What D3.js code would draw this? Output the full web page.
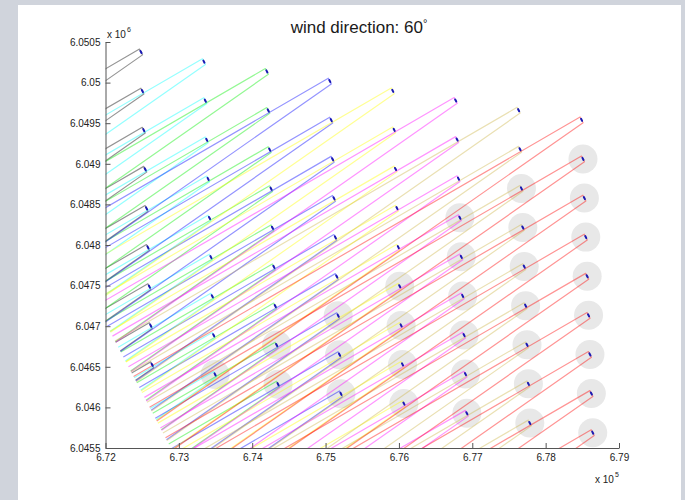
<!DOCTYPE html>
<html><head><meta charset="utf-8">
<script src="https://cdn.jsdelivr.net/npm/d3@7"></script>
<style>
html,body{margin:0;padding:0;background:#d0d4dc;}
svg{display:block;}
</style></head><body>
<svg id="chart" width="685" height="500"></svg>
<script>
// ---------- data ----------
const titleText = "wind direction: 60";
const windDirection = 60;          // degrees (wind comes from)
const rotorDiameter = 82;          // m
const wakeDecay = 0.04;            // wake expansion
const wakeEndDistance = 6870;      // m downstream of most upstream turbine

const xTicks = [6.72, 6.73, 6.74, 6.75, 6.76, 6.77, 6.78, 6.79];          // x 10^5
const yTicks = [6.0455, 6.046, 6.0465, 6.047, 6.0475, 6.048, 6.0485, 6.049, 6.0495, 6.05, 6.0505]; // x 10^6
const xExponent = 5;
const yExponent = 6;

const columnColors = ["#000000", "#00ffff", "#00ee00", "#0000ff", "#ffff00", "#ff00ff", "#ccb44a", "#ff0000"];

// turbine eastings (m), one array per column (rows 1..9)
const turbineX = [
  [672484, 672503, 672522, 672541, 672560, 672579, 672598, 672617, 672636],
  [673342, 673361, 673380, 673399, 673418, 673437, 673456, 673475, 673494],
  [674200, 674219, 674238, 674257, 674276, 674295, 674314, 674333, 674352],
  [675058, 675077, 675096, 675115, 675134, 675153, 675172, 675191, 675210],
  [675916, 675935, 675954, 675973, 675992, 676011, 676030, 676049, 676068],
  [676774, 676793, 676812, 676831, 676850, 676869, 676888, 676907, 676926],
  [677632, 677651, 677670, 677689, 677708, 677727, 677746, 677765, 677784],
  [678490, 678509, 678528, 678547, 678566, 678585, 678604, 678623, 678642]
];
// turbine northings (m)
const turbineY = [
  [6050377, 6049896, 6049414, 6048933, 6048451, 6047970, 6047488, 6047007, 6046525],
  [6050258, 6049777, 6049295, 6048814, 6048332, 6047851, 6047369, 6046888, 6046406],
  [6050138, 6049657, 6049175, 6048694, 6048212, 6047731, 6047249, 6046768, 6046286],
  [6050019, 6049538, 6049056, 6048575, 6048093, 6047612, 6047130, 6046649, 6046167],
  [6049899, 6049418, 6048936, 6048455, 6047973, 6047492, 6047010, 6046529, 6046047],
  [6049780, 6049299, 6048817, 6048336, 6047854, 6047373, 6046891, 6046410, 6045928],
  [6049660, 6049179, 6048697, 6048216, 6047734, 6047253, 6046771, 6046290, 6045808],
  [6049541, 6049060, 6048578, 6048097, 6047615, 6047134, 6046652, 6046171, 6045689]
];
// rows (1-based) marked with a grey disc, per column
const highlightedRows = [
  [], [9], [8, 9], [7, 8, 9], [6, 7, 8, 9], [4, 5, 6, 7, 8, 9], [3, 4, 5, 6, 7, 8, 9], [2, 3, 4, 5, 6, 7, 8, 9]
];

// ---------- chart ----------
const svg = d3.select("#chart");
const plot = {left: 105.5, right: 619, top: 42, bottom: 448};

const x = d3.scaleLinear()
  .domain([xTicks[0] * 10 ** xExponent, xTicks[xTicks.length - 1] * 10 ** xExponent])
  .range([plot.left, plot.right]);
const y = d3.scaleLinear()
  .domain([yTicks[0] * 10 ** yExponent, yTicks[yTicks.length - 1] * 10 ** yExponent])
  .range([plot.bottom, plot.top]);

// white figure panel
svg.append("rect").attr("x", 18).attr("y", 5).attr("width", 663).attr("height", 500).attr("fill", "#ffffff");

svg.append("defs").append("clipPath").attr("id", "clip")
  .append("rect").attr("x", plot.left).attr("y", plot.top)
  .attr("width", plot.right - plot.left).attr("height", plot.bottom - plot.top);

const turbines = [];
turbineX.forEach((col, c) => col.forEach((tx, r) => {
  turbines.push({c, r, X: tx, Y: turbineY[c][r], hi: highlightedRows[c].includes(r + 1)});
}));

const rad = (windDirection + 180) * Math.PI / 180;
const u = [Math.sin(rad), Math.cos(rad)];   // downstream direction (east, north)
const n = [-u[1], u[0]];                    // cross-wind direction
const sMin = d3.min(turbines, t => t.X * u[0] + t.Y * u[1]);
const sEnd = sMin + wakeEndDistance;

const g = svg.append("g").attr("clip-path", "url(#clip)");

// grey discs
g.append("g").selectAll("circle").data(turbines.filter(t => t.hi)).join("circle")
  .attr("cx", t => x(t.X)).attr("cy", t => y(t.Y)).attr("r", 14.5)
  .attr("fill", "#e8e8e8");

// wakes
const line = d3.line().x(p => x(p[0])).y(p => y(p[1]));
function pt(t, s, side) {
  const w = rotorDiameter / 2 + wakeDecay * s;
  return [t.X + s * u[0] + side * w * n[0], t.Y + s * u[1] + side * w * n[1]];
}
g.append("g").selectAll("path").data(turbines).join("path")
  .attr("d", t => {
    const L = sEnd - (t.X * u[0] + t.Y * u[1]);
    return line([pt(t, L, 1), pt(t, 0, 1), pt(t, 0, -1), pt(t, L, -1)]);
  })
  .attr("fill", "none")
  .attr("stroke", t => columnColors[t.c])
  .attr("stroke-opacity", 0.42)
  .attr("stroke-width", 1.2)
  .attr("stroke-linejoin", "round");

// rotors
g.append("g").selectAll("line").data(turbines).join("line")
  .attr("x1", t => x(t.X - 0.18 * rotorDiameter * n[0])).attr("y1", t => y(t.Y - 0.18 * rotorDiameter * n[1]))
  .attr("x2", t => x(t.X + 0.18 * rotorDiameter * n[0])).attr("y2", t => y(t.Y + 0.18 * rotorDiameter * n[1]))
  .attr("stroke", "#1a1ab4").attr("stroke-width", 2).attr("stroke-linecap", "round");

// axes
const fmt = v => String(+v.toFixed(4));
const xAxis = d3.axisBottom(x)
  .tickValues(xTicks.map(v => v * 10 ** xExponent))
  .tickFormat((d, i) => fmt(xTicks[i]))
  .tickSizeInner(-5).tickSizeOuter(0).tickPadding(6);
const yAxis = d3.axisLeft(y)
  .tickValues(yTicks.map(v => v * 10 ** yExponent))
  .tickFormat((d, i) => fmt(yTicks[i]))
  .tickSizeInner(-5).tickSizeOuter(0).tickPadding(5);

const axStyle = sel => {
  sel.attr("font-family", "'Liberation Sans', Arial, sans-serif").attr("font-size", 10);
  sel.select(".domain").attr("stroke", "#555");
  sel.selectAll(".tick line").attr("stroke", "#555");
  sel.selectAll(".tick text").attr("fill", "#222");
};
svg.append("g").attr("transform", `translate(0,${plot.bottom})`).call(xAxis).call(axStyle);
svg.append("g").attr("transform", `translate(${plot.left},0)`).call(yAxis).call(axStyle);

// exponent labels
const expLabel = (xx, yy, e) => {
  const t = svg.append("text").attr("x", xx).attr("y", yy)
    .attr("font-family", "'Liberation Sans', Arial, sans-serif").attr("font-size", 10).attr("fill", "#222");
  t.append("tspan").text("x 10");
  t.append("tspan").attr("font-size", 7).attr("dy", -6).attr("dx", 1).text(e);
};
expLabel(107, 38, yExponent);
expLabel(595, 483, xExponent);

// title
const tt = svg.append("text").attr("x", 359).attr("y", 33).attr("text-anchor", "middle")
  .attr("font-family", "'Liberation Sans', Arial, sans-serif").attr("font-size", 17).attr("fill", "#1a1a1a");
tt.append("tspan").text(titleText);
tt.append("tspan").attr("font-size", 11).attr("dy", -6).text("°");
</script>
</body></html>
